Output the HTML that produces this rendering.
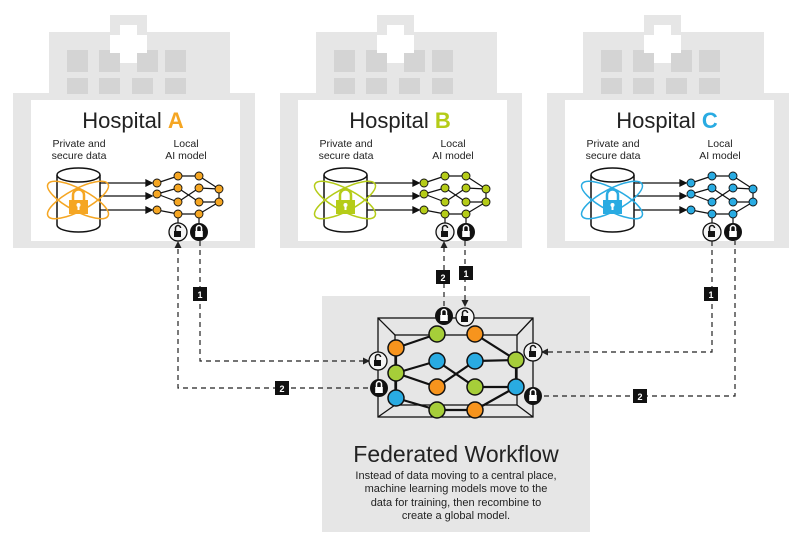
<!DOCTYPE html>
<html><head><meta charset="utf-8"><style>
html,body{margin:0;padding:0;background:#fff;}
svg{display:block;font-family:"Liberation Sans",sans-serif;}
</style></head><body>
<svg width="800" height="543" viewBox="0 0 800 543" xmlns="http://www.w3.org/2000/svg">
<defs>
  <g id="bld">
    <rect x="49" y="32" width="181" height="70" fill="#e6e6e6"/>
    <rect x="110" y="15" width="37" height="20" fill="#e6e6e6"/>
    <rect x="13" y="93" width="242" height="155" fill="#e6e6e6"/>
    <rect x="31" y="100" width="209" height="141" fill="#fff"/>
    <rect x="67" y="50" width="21" height="22" fill="#d4d4d4"/>
    <rect x="99" y="50" width="21" height="22" fill="#d4d4d4"/>
    <rect x="137" y="50" width="21" height="22" fill="#d4d4d4"/>
    <rect x="165" y="50" width="21" height="22" fill="#d4d4d4"/>
    <rect x="67" y="78" width="21" height="16" fill="#d4d4d4"/>
    <rect x="99" y="78" width="21" height="16" fill="#d4d4d4"/>
    <rect x="132" y="78" width="21" height="16" fill="#d4d4d4"/>
    <rect x="165" y="78" width="21" height="16" fill="#d4d4d4"/>
    <rect x="120" y="25" width="17" height="38" fill="#fff"/>
    <rect x="110" y="35" width="37" height="18" fill="#fff"/>
    <text x="79" y="147" font-size="10.5" text-anchor="middle" fill="#222">Private and</text>
    <text x="79" y="159" font-size="10.5" text-anchor="middle" fill="#222">secure data</text>
    <text x="186" y="147" font-size="10.5" text-anchor="middle" fill="#222">Local</text>
    <text x="186" y="159" font-size="10.5" text-anchor="middle" fill="#222">AI model</text>
    <path d="M57 175 V225 A21.5 7 0 0 0 100 225 V175" fill="#fff" stroke="#111" stroke-width="1.5"/>
    <ellipse cx="78.5" cy="175" rx="21.5" ry="7" fill="#fff" stroke="#111" stroke-width="1.5"/>
    <g stroke="#111" stroke-width="1.3" fill="#111">
      <line x1="100" y1="183" x2="148" y2="183"/><path d="M152 183 l-6 -3 v6z"/>
      <line x1="100" y1="196" x2="148" y2="196"/><path d="M152 196 l-6 -3 v6z"/>
      <line x1="100" y1="210" x2="148" y2="210"/><path d="M152 210 l-6 -3 v6z"/>
    </g>
    <g stroke="#111" stroke-width="1.2">
      <line x1="157" y1="183" x2="178" y2="176"/><line x1="178" y1="176" x2="199" y2="176"/><line x1="199" y1="176" x2="219" y2="189"/>
      <line x1="157" y1="194" x2="178" y2="188"/><line x1="157" y1="194" x2="178" y2="202"/>
      <line x1="178" y1="188" x2="199" y2="202"/><line x1="178" y1="202" x2="199" y2="188"/>
      <line x1="199" y1="188" x2="219" y2="189"/><line x1="199" y1="202" x2="219" y2="202"/>
      <line x1="219" y1="189" x2="219" y2="202"/>
      <line x1="157" y1="210" x2="178" y2="214"/><line x1="178" y1="214" x2="199" y2="214"/><line x1="199" y1="214" x2="219" y2="202"/>
      <line x1="178" y1="214" x2="178" y2="224"/><line x1="199" y1="214" x2="199" y2="224"/>
    </g>
  </g>
  <g id="lkw"><circle r="9" fill="#f4f4f4" stroke="#111" stroke-width="1.3"/><path d="M-2.5 -1 V-4 A2.5 2.5 0 0 1 2.5 -4" fill="none" stroke="#111" stroke-width="1.5"/><rect x="-4" y="-1" width="7" height="6" fill="#111"/></g>
  <g id="lkb"><circle r="9" fill="#111"/><path d="M-2.5 -1 V-4 A2.5 2.5 0 0 1 2.5 -4 V-1" fill="none" stroke="#fff" stroke-width="1.5"/><rect x="-3.8" y="-1" width="7.6" height="6" fill="#fff"/></g>
</defs>

<use href="#bld"/>
<text x="133" y="128" font-size="22" text-anchor="middle" fill="#222">Hospital <tspan font-weight="bold" fill="#f5a623">A</tspan></text>
<g transform="translate(267,0)"><use href="#bld"/><text x="133" y="128" font-size="22" text-anchor="middle" fill="#222">Hospital <tspan font-weight="bold" fill="#b5cc18">B</tspan></text></g>
<g transform="translate(534,0)"><use href="#bld"/><text x="133" y="128" font-size="22" text-anchor="middle" fill="#222">Hospital <tspan font-weight="bold" fill="#29abe2">C</tspan></text></g>

<g>
  <g fill="none" stroke-width="1.5">
    <ellipse cx="78" cy="200" rx="34" ry="11" transform="rotate(-28 78 200)" stroke="#f5a623"/>
    <ellipse cx="78" cy="200" rx="34" ry="11" transform="rotate(28 78 200)" stroke="#f5a623"/>
    <ellipse cx="345" cy="200" rx="34" ry="11" transform="rotate(-28 345 200)" stroke="#b5cc18"/>
    <ellipse cx="345" cy="200" rx="34" ry="11" transform="rotate(28 345 200)" stroke="#b5cc18"/>
    <ellipse cx="612" cy="200" rx="34" ry="11" transform="rotate(-28 612 200)" stroke="#29abe2"/>
    <ellipse cx="612" cy="200" rx="34" ry="11" transform="rotate(28 612 200)" stroke="#29abe2"/>
  </g>
  <g fill="none" stroke-width="2.5">
    <path d="M73 200 v-5 a5.5 5.5 0 0 1 11 0 v5" stroke="#f5a623"/>
    <path d="M340 200 v-5 a5.5 5.5 0 0 1 11 0 v5" stroke="#b5cc18"/>
    <path d="M607 200 v-5 a5.5 5.5 0 0 1 11 0 v5" stroke="#29abe2"/>
  </g>
  <rect x="69" y="200" width="19" height="14" fill="#f5a623"/>
  <rect x="336" y="200" width="19" height="14" fill="#b5cc18"/>
  <rect x="603" y="200" width="19" height="14" fill="#29abe2"/>
  <g fill="#fff"><circle cx="78.5" cy="205" r="2"/><circle cx="345.5" cy="205" r="2"/><circle cx="612.5" cy="205" r="2"/>
  <rect x="77.5" y="205" width="2" height="5"/><rect x="344.5" y="205" width="2" height="5"/><rect x="611.5" y="205" width="2" height="5"/></g>
</g>
<g stroke="#111" stroke-width="0.9">
  <g fill="#f5a623">
    <circle cx="157" cy="183" r="4"/><circle cx="157" cy="194" r="4"/><circle cx="157" cy="210" r="4"/>
    <circle cx="178" cy="176" r="4"/><circle cx="178" cy="188" r="4"/><circle cx="178" cy="202" r="4"/><circle cx="178" cy="214" r="4"/>
    <circle cx="199" cy="176" r="4"/><circle cx="199" cy="188" r="4"/><circle cx="199" cy="202" r="4"/><circle cx="199" cy="214" r="4"/>
    <circle cx="219" cy="189" r="4"/><circle cx="219" cy="202" r="4"/>
  </g>
  <g fill="#b5cc18" transform="translate(267,0)">
    <circle cx="157" cy="183" r="4"/><circle cx="157" cy="194" r="4"/><circle cx="157" cy="210" r="4"/>
    <circle cx="178" cy="176" r="4"/><circle cx="178" cy="188" r="4"/><circle cx="178" cy="202" r="4"/><circle cx="178" cy="214" r="4"/>
    <circle cx="199" cy="176" r="4"/><circle cx="199" cy="188" r="4"/><circle cx="199" cy="202" r="4"/><circle cx="199" cy="214" r="4"/>
    <circle cx="219" cy="189" r="4"/><circle cx="219" cy="202" r="4"/>
  </g>
  <g fill="#29abe2" transform="translate(534,0)">
    <circle cx="157" cy="183" r="4"/><circle cx="157" cy="194" r="4"/><circle cx="157" cy="210" r="4"/>
    <circle cx="178" cy="176" r="4"/><circle cx="178" cy="188" r="4"/><circle cx="178" cy="202" r="4"/><circle cx="178" cy="214" r="4"/>
    <circle cx="199" cy="176" r="4"/><circle cx="199" cy="188" r="4"/><circle cx="199" cy="202" r="4"/><circle cx="199" cy="214" r="4"/>
    <circle cx="219" cy="189" r="4"/><circle cx="219" cy="202" r="4"/>
  </g>
</g>

<rect x="322" y="296" width="268" height="236" fill="#e6e6e6"/>
<g fill="none" stroke="#111" stroke-width="1.3">
  <rect x="378" y="318" width="155" height="99"/>
  <rect x="395" y="335" width="122" height="70"/>
  <line x1="378" y1="318" x2="395" y2="335"/><line x1="533" y1="318" x2="517" y2="335"/>
  <line x1="378" y1="417" x2="395" y2="405"/><line x1="533" y1="417" x2="517" y2="405"/>
</g>
<g stroke="#111" stroke-width="2.2">
  <line x1="396" y1="348" x2="437" y2="334"/><line x1="475" y1="334" x2="516" y2="360"/>
  <line x1="396" y1="373" x2="437" y2="361"/><line x1="396" y1="373" x2="437" y2="387"/>
  <line x1="437" y1="361" x2="475" y2="387"/><line x1="437" y1="387" x2="475" y2="361"/>
  <line x1="475" y1="361" x2="516" y2="360"/><line x1="475" y1="387" x2="516" y2="387"/>
  <line x1="396" y1="398" x2="437" y2="410"/><line x1="437" y1="410" x2="475" y2="410"/><line x1="475" y1="410" x2="516" y2="387"/>
  <line x1="396" y1="348" x2="396" y2="398"/><line x1="516" y1="360" x2="516" y2="387"/>
</g>
<g stroke="#111" stroke-width="1.5">
  <circle cx="396" cy="348" r="8" fill="#f7941d"/><circle cx="437" cy="334" r="8" fill="#a6ce39"/>
  <circle cx="475" cy="334" r="8" fill="#f7941d"/><circle cx="516" cy="360" r="8" fill="#a6ce39"/>
  <circle cx="396" cy="373" r="8" fill="#a6ce39"/><circle cx="437" cy="361" r="8" fill="#29abe2"/>
  <circle cx="475" cy="361" r="8" fill="#29abe2"/><circle cx="437" cy="387" r="8" fill="#f7941d"/>
  <circle cx="475" cy="387" r="8" fill="#a6ce39"/><circle cx="516" cy="387" r="8" fill="#29abe2"/>
  <circle cx="396" cy="398" r="8" fill="#29abe2"/><circle cx="437" cy="410" r="8" fill="#a6ce39"/>
  <circle cx="475" cy="410" r="8" fill="#f7941d"/>
</g>

<g fill="none" stroke="#222" stroke-width="1.2" stroke-dasharray="5,4">
  <path d="M200 241 V361 H366"/>
  <path d="M368 388 H178 V245"/>
  <path d="M444 306 V245"/>
  <path d="M465 241 V303"/>
  <path d="M712 241 V352 H546"/>
  <path d="M544 396 H735 V241"/>
</g>
<g fill="#222">
  <path d="M370 361 l-7 -3.5 v7z"/>
  <path d="M178 241 l-3.5 7 h7z"/>
  <path d="M444 241 l-3.5 7 h7z"/>
  <path d="M465 307 l-3.5 -7 h7z"/>
  <path d="M541 352 l7 -3.5 v7z"/>
</g>
<g font-size="9" font-weight="bold" fill="#fff" text-anchor="middle">
  <rect x="193" y="287" width="14" height="14" fill="#111"/><text x="200" y="298">1</text>
  <rect x="275" y="381" width="14" height="14" fill="#111"/><text x="282" y="392">2</text>
  <rect x="436" y="270" width="14" height="14" fill="#111"/><text x="443" y="281">2</text>
  <rect x="459" y="266" width="14" height="14" fill="#111"/><text x="466" y="277">1</text>
  <rect x="704" y="287" width="14" height="14" fill="#111"/><text x="711" y="298">1</text>
  <rect x="633" y="389" width="14" height="14" fill="#111"/><text x="640" y="400">2</text>
</g>

<use href="#lkw" x="178" y="232"/><use href="#lkb" x="199" y="232"/>
<use href="#lkw" x="445" y="232"/><use href="#lkb" x="466" y="232"/>
<use href="#lkw" x="712" y="232"/><use href="#lkb" x="733" y="232"/>
<use href="#lkb" x="444" y="316"/><use href="#lkw" x="465" y="317"/>
<use href="#lkw" x="378" y="361"/><use href="#lkb" x="379" y="388"/>
<use href="#lkw" x="533" y="352"/><use href="#lkb" x="533" y="396"/>

<text x="456" y="462" font-size="23" text-anchor="middle" fill="#222">Federated Workflow</text>
<g font-size="11" text-anchor="middle" fill="#222">
  <text x="456" y="479">Instead of data moving to a central place,</text>
  <text x="456" y="492">machine learning models move to the</text>
  <text x="456" y="506">data for training, then recombine to</text>
  <text x="456" y="519">create a global model.</text>
</g>
</svg>
</body></html>
